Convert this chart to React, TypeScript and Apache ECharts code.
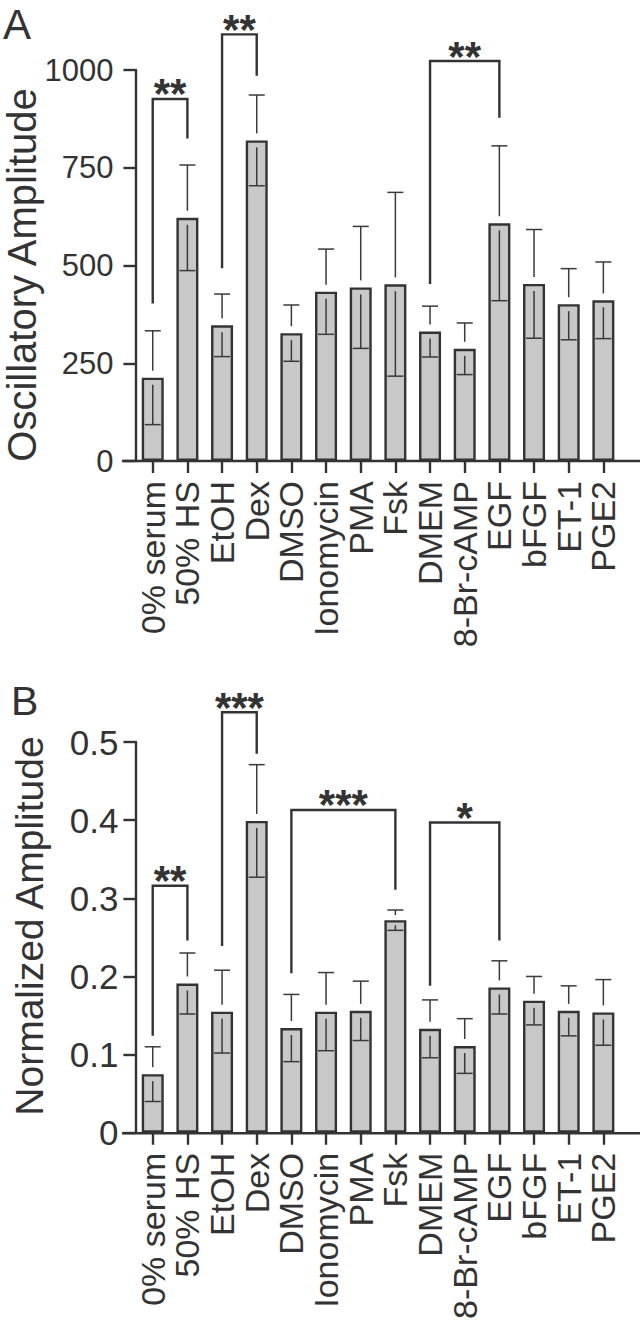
import React, { useEffect, useRef } from "react";
import * as echarts from "echarts";

const categories = ["0% serum", "50% HS", "EtOH", "Dex", "DMSO", "Ionomycin", "PMA", "Fsk", "DMEM", "8-Br-cAMP", "EGF", "bFGF", "ET-1", "PGE2"];

// Panel A: Oscillatory Amplitude (mean, error)
const meanA = [213, 622, 347, 820, 327, 433, 444, 452, 331, 287, 608, 453, 401, 411];
const errA = [120, 135, 80, 116, 72, 109, 156, 235, 65, 66, 198, 139, 91, 98];

// Panel B: Normalized Amplitude (mean, error)
const meanB = [0.075, 0.191, 0.155, 0.399, 0.134, 0.155, 0.156, 0.272, 0.133, 0.111, 0.186, 0.169, 0.156, 0.154];
const errB = [0.035, 0.039, 0.053, 0.072, 0.043, 0.05, 0.038, 0.013, 0.037, 0.035, 0.034, 0.031, 0.032, 0.042];

// significance brackets: [fromIndex, toIndex, leftLegBottom, top, rightLegBottom]
const bracketsA = [[0, 1, 403, 926, 825], [2, 3, 493, 1091, 985], [8, 10, 453, 1023, 878]];
const starsA = ["**", "**", "**"];
const bracketsB = [[0, 1, 0.124, 0.316, 0.246], [2, 3, 0.239, 0.538, 0.485], [4, 7, 0.204, 0.413, 0.311], [8, 10, 0.188, 0.397, 0.246]];
const starsB = ["**", "***", "***", "*"];

const titleA = "Oscillatory Amplitude";
const titleB = "Normalized Amplitude";

const FONT = '"Liberation Sans", Arial, Helvetica, sans-serif';
const INK = "#333333";

const errorRender = (params: any, api: any) => {
  const i = api.value(0);
  const m = api.value(1);
  const e = api.value(2);
  const c = api.coord([i, m]);
  const hi = api.coord([i, m + e]);
  const lo = api.coord([i, m - e]);
  const errPx = c[1] - hi[1];
  const gap = Math.min(7, errPx / 2);
  const cw = 8;
  const style = { stroke: "#3a3a3a", lineWidth: 1.5, fill: null };
  return {
    type: "group",
    children: [
      { type: "line", shape: { x1: c[0], y1: c[1] - gap, x2: c[0], y2: hi[1] }, style },
      { type: "line", shape: { x1: c[0] - cw, y1: hi[1], x2: c[0] + cw, y2: hi[1] }, style },
      { type: "line", shape: { x1: c[0], y1: c[1] + gap, x2: c[0], y2: lo[1] }, style },
      { type: "line", shape: { x1: c[0] - cw, y1: lo[1], x2: c[0] + cw, y2: lo[1] }, style },
    ],
  };
};

const makeBracketRender = (labels: string[]) => (params: any, api: any) => {
  const a = api.value(0);
  const b = api.value(1);
  const p1 = api.coord([a, api.value(2)]);
  const pt = api.coord([a, api.value(3)]);
  const p2 = api.coord([b, api.value(4)]);
  const top = pt[1];
  return {
    type: "group",
    children: [
      {
        type: "polyline",
        shape: { points: [[p1[0], p1[1]], [p1[0], top], [p2[0], top], [p2[0], p2[1]]] },
        style: { stroke: INK, lineWidth: 2.4, fill: null },
      },
      {
        type: "text",
        x: (p1[0] + p2[0]) / 2,
        y: top - 5,
        style: {
          text: labels[params.dataIndex],
          fill: INK,
          fontSize: 42,
          fontWeight: "bold",
          fontFamily: FONT,
          align: "center",
          verticalAlign: "middle",
        },
      },
    ],
  };
};

const fmt = (v: number) => String(Math.round(v * 1e6) / 1e6);

const xAxisFor = (g: number) => ({
  type: "category",
  gridIndex: g,
  data: categories,
  axisLine: { show: false },
  axisTick: { show: true, length: 12, alignWithLabel: true, lineStyle: { color: INK, width: 2.4 } },
  axisLabel: { interval: 0, rotate: 90, fontSize: 34, margin: 20, color: INK, fontFamily: FONT },
});

const yAxisFor = (g: number, max: number, interval: number, margin: number, fontSize: number) => ({
  type: "value",
  gridIndex: g,
  min: 0,
  max,
  interval,
  splitLine: { show: false },
  axisLine: { show: true, lineStyle: { color: INK, width: 2.4 } },
  axisTick: { show: true, length: 12, lineStyle: { color: INK, width: 2.4 } },
  axisLabel: { fontSize, margin, color: INK, fontFamily: FONT, formatter: fmt },
});

const barSeries = (g: number, data: number[]) => ({
  type: "bar",
  xAxisIndex: g,
  yAxisIndex: g,
  data,
  barWidth: 22,
  itemStyle: { color: "#c8c8c8", borderColor: INK, borderWidth: 2.4 },
  z: 2,
});

const errSeries = (g: number, means: number[], errs: number[]) => ({
  type: "custom",
  xAxisIndex: g,
  yAxisIndex: g,
  renderItem: errorRender,
  data: means.map((m, i) => [i, m, errs[i]]),
  encode: { x: 0, y: 1 },
  clip: false,
  z: 3,
});

const bracketSeries = (g: number, br: number[][], labels: string[]) => ({
  type: "custom",
  xAxisIndex: g,
  yAxisIndex: g,
  renderItem: makeBracketRender(labels),
  data: br,
  encode: { x: [0, 1], y: [2, 3, 4] },
  clip: false,
  z: 4,
});

export default function App() {
  const ref = useRef<HTMLDivElement>(null);
  useEffect(() => {
    document.body.style.margin = "0";
    if (!ref.current) return;
    const chart = echarts.init(ref.current, null, { renderer: "svg" });
    const option = {
      animation: false,
      backgroundColor: "#ffffff",
      textStyle: { fontFamily: FONT },
      grid: [
        { left: 135.4, top: 70, width: 485.3, height: 391 },
        { left: 135.4, top: 742, width: 485.3, height: 391.3 },
      ],
      xAxis: [xAxisFor(0), xAxisFor(1)],
      yAxis: [yAxisFor(0, 1000, 250, 22, 31), yAxisFor(1, 0.5, 0.1, 17, 35)],
      series: [
        barSeries(0, meanA),
        errSeries(0, meanA, errA),
        bracketSeries(0, bracketsA, starsA),
        barSeries(1, meanB),
        errSeries(1, meanB, errB),
        bracketSeries(1, bracketsB, starsB),
      ],
      graphic: [
        { type: "line", shape: { x1: 122, y1: 461, x2: 640, y2: 461 }, style: { stroke: INK, lineWidth: 2.4 }, z: 5 },
        { type: "line", shape: { x1: 122, y1: 1133.3, x2: 640, y2: 1133.3 }, style: { stroke: INK, lineWidth: 2.4 }, z: 5 },
        { type: "text", x: 3, y: 24, style: { text: "A", fontSize: 42, fontFamily: FONT, fill: INK, align: "left", verticalAlign: "middle" } },
        { type: "text", x: 11, y: 701, style: { text: "B", fontSize: 41, fontFamily: FONT, fill: INK, align: "left", verticalAlign: "middle" } },
        { type: "text", x: 22, y: 275, rotation: Math.PI / 2, style: { text: titleA, fontSize: 40, fontFamily: FONT, fill: INK, align: "center", verticalAlign: "middle" } },
        { type: "text", x: 29, y: 926, rotation: Math.PI / 2, style: { text: titleB, fontSize: 39, fontFamily: FONT, fill: INK, align: "center", verticalAlign: "middle" } },
      ],
    };
    chart.setOption(option as any);
    return () => chart.dispose();
  }, []);
  return <div ref={ref} style={{ width: 640, height: 1322 }} />;
}
